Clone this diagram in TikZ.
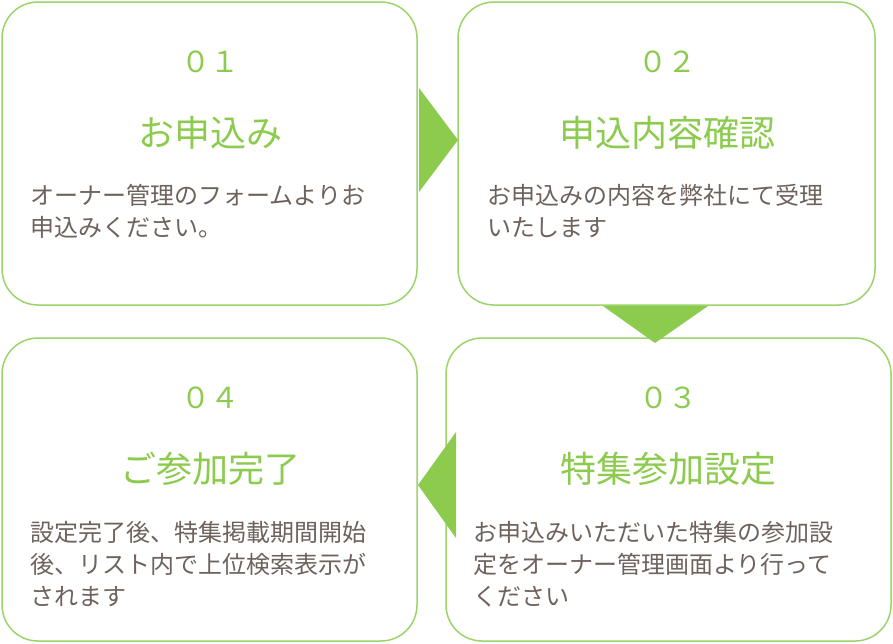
\documentclass[tikz,border=0pt]{standalone}
\usepackage{fontspec}
\newfontfamily\jp{Noto Sans CJK JP}
\definecolor{colorLine}{HTML}{9BD46A}
\definecolor{colorHead}{HTML}{8CCB4E}
\definecolor{colorBody}{HTML}{6E625C}
\tikzset{
  stepbox/.style={draw=colorLine, line width=1.5pt, rounded corners=36pt, fill=white},
  numtext/.style={text=colorHead, font=\jp\fontsize{29}{32}\selectfont},
  headtext/.style={text=colorHead, font=\jp\fontsize{36}{40}\selectfont},
  bodytext/.style={text=colorBody, font=\jp\fontsize{24}{32}\selectfont, align=left, anchor=north west, inner sep=0pt},
  pointer/.style={fill=colorHead, draw=none}
}
\begin{document}
\begin{tikzpicture}[x=1pt, y=-1pt]
\useasboundingbox (0,0) rectangle (893,643);
\draw[stepbox] (2,2) rectangle (417,305);
\draw[stepbox] (458,2) rectangle (875,305);
\draw[stepbox] (446,338) rectangle (891,641);
\draw[stepbox] (2,338) rectangle (417,641);
% pointers between the steps
\fill[pointer] (419,88) -- (458,140) -- (419,192) -- cycle;
\fill[pointer] (603,306) -- (708,306) -- (655,343) -- cycle;
\fill[pointer] (456,432) -- (418,485) -- (456,538) -- cycle;
% step 1
\node[numtext] (n1) at (210,62) {０１};
\node[headtext] (h1) at (210,133) {お申込み};
\node[bodytext] (b1) at (30,184) {オーナー管理のフォームよりお\\申込みください。};
% step 2
\node[numtext] (n2) at (667,62) {０２};
\node[headtext] (h2) at (667,133) {申込内容確認};
\node[bodytext] (b2) at (487,184) {お申込みの内容を弊社にて受理\\いたします};
% step 3
\node[numtext] (n3) at (668,398) {０３};
\node[headtext] (h3) at (668,469) {特集参加設定};
\node[bodytext] (b3) at (473,521) {お申込みいただいた特集の参加設\\定をオーナー管理画面より行って\\ください};
% step 4
\node[numtext] (n4) at (210,398) {０４};
\node[headtext] (h4) at (210,469) {ご参加完了};
\node[bodytext] (b4) at (30,521) {設定完了後、特集掲載期間開始\\後、リスト内で上位検索表示が\\されます};
\end{tikzpicture}
\end{document}
